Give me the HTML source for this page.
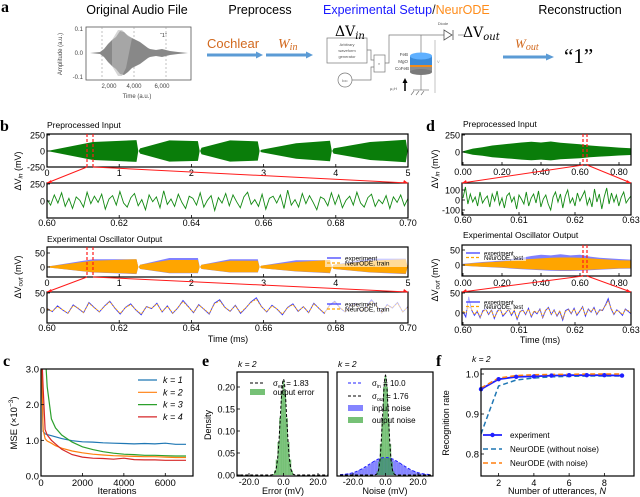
<!DOCTYPE html>
<html><head><meta charset="utf-8"><style>
html,body{margin:0;padding:0;background:#fff;}
svg{display:block;font-family:"Liberation Sans",sans-serif;}
</style></head><body>
<svg id="fig" width="640" height="497" viewBox="0 0 640 497" xmlns="http://www.w3.org/2000/svg">
<defs>
<clipPath id="cb1"><rect x="47" y="134" width="361" height="33"/></clipPath>
<clipPath id="cb2"><rect x="47" y="183" width="361" height="35"/></clipPath>
<clipPath id="cb3"><rect x="47" y="247" width="361" height="30"/></clipPath>
<clipPath id="cb4"><rect x="47" y="292" width="361" height="31"/></clipPath>
<clipPath id="cd1"><rect x="462" y="134" width="169" height="31"/></clipPath>
<clipPath id="cd2"><rect x="462" y="183" width="169" height="32"/></clipPath>
<clipPath id="cd3"><rect x="462" y="245" width="169" height="31"/></clipPath>
<clipPath id="cd4"><rect x="462" y="292" width="169" height="33"/></clipPath>
<clipPath id="cc"><rect x="41" y="369" width="152" height="107"/></clipPath>
<clipPath id="ce1"><rect x="237" y="372" width="91" height="104"/></clipPath>
<clipPath id="ce2"><rect x="337" y="372" width="96" height="104"/></clipPath>
<clipPath id="cf"><rect x="481" y="369" width="153" height="107"/></clipPath>
<clipPath id="caud"><rect x="86" y="27" width="105" height="53"/></clipPath>
</defs>

<g>
<text x="1" y="12" font-family="Liberation Serif,serif" font-weight="bold" font-size="16">a</text>
<text x="137" y="14" font-size="12.5" text-anchor="middle">Original Audio File</text>
<text x="260" y="14" font-size="12.5" text-anchor="middle">Preprocess</text>
<text x="323" y="14" font-size="12.5"><tspan fill="#1a1aff">Experimental Setup</tspan><tspan fill="#222">/</tspan><tspan fill="#ff8c1a">NeurODE</tspan></text>
<text x="580" y="14" font-size="12.5" text-anchor="middle">Reconstruction</text>
<g>
<rect x="86" y="27" width="105" height="53" fill="none" stroke="#555" stroke-width="0.8"/>
<line x1="102" y1="27" x2="102" y2="80" stroke="#999" stroke-dasharray="2,2" stroke-width="0.6"/>
<line x1="134" y1="27" x2="134" y2="80" stroke="#999" stroke-dasharray="2,2" stroke-width="0.6"/>
<line x1="166" y1="27" x2="166" y2="80" stroke="#999" stroke-dasharray="2,2" stroke-width="0.6"/>
<g clip-path="url(#caud)">
<polygon fill="#888" points="90,53 100,52 104,49 108,44 112,40 116,37 120,31 124,32 128,36 132,38 136,40 140,42 144,45 148,48 150,49 156,50 162,49 170,51 178,52 188,53 178,54 170,55 162,57 156,56 150,57 148,58 144,61 140,64 136,66 132,68 128,72 124,75 120,74 116,69 112,66 108,62 104,57 100,54"/>
<polygon fill="#bbb" points="112,40 118,30 122,30 126,34 132,38 126,68 122,76 118,76 112,66" opacity="0.6"/>
</g>
<text x="160" y="37" font-size="5.5" fill="#333">“1”</text>
<g font-size="6" fill="#444" text-anchor="end">
<text x="83" y="31">0.1</text><text x="83" y="55">0.0</text><text x="83" y="79">-0.1</text></g>
<g font-size="6" fill="#444" text-anchor="middle">
<text x="109" y="88">2,000</text><text x="134" y="88">4,000</text><text x="162" y="88">6,000</text></g>
<text x="137" y="98" font-size="6" fill="#444" text-anchor="middle">Time (a.u.)</text>
<text transform="translate(62,54) rotate(-90)" font-size="6" fill="#444" text-anchor="middle">Amplitude (a.u.)</text>
</g>
<text x="207" y="48" font-size="13" fill="#d2691e">Cochlear</text>
<line x1="207" y1="55" x2="257" y2="55" stroke="#5b9bd5" stroke-width="3"/>
<polygon points="256,51.5 263,55 256,58.5" fill="#5b9bd5"/>
<text x="278" y="48" font-size="14" fill="#d2691e" font-style="italic" font-family="Liberation Serif,serif">W<tspan font-size="10" dy="2">in</tspan></text>
<line x1="266" y1="55" x2="307" y2="55" stroke="#5b9bd5" stroke-width="3"/>
<polygon points="306,51.5 313,55 306,58.5" fill="#5b9bd5"/>
<g stroke="#777" fill="none" stroke-width="0.7">
<rect x="327" y="38" width="40" height="25"/>
<circle cx="345" cy="80" r="7"/>
<rect x="374" y="55" width="11" height="17"/>
<polyline points="367,50 371,50 371,60 374,60"/>
<polyline points="352,80 371,80 371,67 374,67"/>
<polyline points="385,63 389,63 389,35 444,35"/>
<polyline points="458,35 465,35"/>
<line x1="421" y1="35" x2="421" y2="53"/>
<line x1="421" y1="72" x2="421" y2="90"/>
<line x1="413" y1="90" x2="429" y2="90"/>
<line x1="435" y1="93" x2="435" y2="40" stroke="#aaa"/>
</g>
<text x="335" y="36" font-size="14" font-family="DejaVu Serif,serif">ΔV<tspan font-style="italic" font-size="10" dy="3">in</tspan></text>
<g font-size="4" fill="#555" text-anchor="middle"><text x="347" y="46">Arbitrary</text><text x="347" y="52">waveform</text><text x="347" y="58">generator</text><text x="345" y="82">I<tspan font-size="3">DC</tspan></text><text x="379" y="65">×</text><text x="443" y="25">Diode</text></g>
<g font-size="4.5" fill="#444" text-anchor="end"><text x="408" y="56">FeB</text><text x="408" y="63">MgO</text><text x="409" y="70">CoFeB</text></g>
<text x="390" y="90" font-size="4" fill="#555">μ₀H</text>
<line x1="405" y1="91" x2="405" y2="82" stroke="#000" stroke-width="1.5"/><polygon points="402.5,83 405,78 407.5,83" fill="#000"/>
<polygon points="444,30 444,40 452,35" fill="#fff" stroke="#555" stroke-width="0.8"/><line x1="453" y1="30" x2="453" y2="40" stroke="#555" stroke-width="0.8"/>
<g>
<rect x="410" y="56" width="22" height="16" fill="#8c8c8c"/>
<ellipse cx="421" cy="72" rx="11" ry="3" fill="#7a7a7a"/>
<rect x="410" y="56" width="22" height="9" fill="#3a8ad8"/>
<rect x="410" y="65" width="22" height="2" fill="#f08c1c"/>
<ellipse cx="421" cy="56" rx="11" ry="3.5" fill="#5fb0ff"/>
</g>
<path d="M414,91 l-3,4 M419,91 l-3,4 M424,91 l-3,4" stroke="#777" stroke-width="0.7"/>
<text x="437" y="63" font-size="4" fill="#999">V</text>
<text x="463" y="37" font-size="14" font-family="DejaVu Serif,serif">ΔV<tspan font-style="italic" font-size="10" dy="3">out</tspan></text>
<text x="515" y="48" font-size="13" fill="#d2691e" font-style="italic" font-family="Liberation Serif,serif">W<tspan font-size="10" dy="2">out</tspan></text>
<line x1="503" y1="57" x2="547" y2="57" stroke="#5b9bd5" stroke-width="3"/>
<polygon points="546,53.5 554,57 546,60.5" fill="#5b9bd5"/>
<text x="564" y="63" font-size="21" font-family="Liberation Serif,serif">“1”</text>
</g>

<g id="charts"></g>
</svg>
<script>
const bSegStart=[0,1.27,2.12,2.95,3.95];
const bSegEnd=[1.27,2.12,2.95,3.95,5];
const bAmpStart=[5,40,50,20,40];
const bAmpMid=[140,165,165,120,140];
const bAmpEnd=[170,155,150,160,175];
const bOutStart=[2,8,8,5,8];
const bOutMid=[22,25,22,18,22];
const bOutEnd=[28,25,22,25,28];
const bOutSpike=[28,32,28,24,30];
const bIn=[20,-60,90,-30,120,-80,40,-110,60,10,-90,130,-40,70,-20,100,-120,30,80,-60,140,-30,-90,50,110,-70,20,-130,90,-10,60,-100,150,-50,30,-80,100,-20,-110,70,40,-60,120,-90,10,80,-140,50,-30,110,-70,90,-10,-100,60,130,-50,20,-80,100,-120,40,70,-30,90,-110,160,-60,20,-90,110,-40,80,-20,-130,60,30,-70,120,-50,90,-100,10,70,-60,130,-30,-90,50,100,-80,20,-40,80,-110,60,-20,90,-70,40];
const bOutExp=[5,-5,12,0,-10,15,4,-8,22,8,-6,12,26,5,-12,8,18,0,-14,10,4,20,-6,12,-10,6,28,10,-8,16,2,-12,20,30,8,-4,14,-10,6,24,36,10,-6,14,2,-14,8,18,-4,10,-8,20,4,-10,14,26,6,-6,12,20,-4,8,30,12,-8,16,6,22,-6,10];
const bOutNode=[4,-4,10,1,-9,13,5,-7,20,7,-5,11,24,6,-10,7,16,1,-12,9,5,18,-5,11,-9,7,25,9,-7,14,3,-10,18,27,7,-3,12,-8,7,22,32,9,-5,12,3,-12,7,16,-3,9,-7,18,5,-9,12,23,7,-5,11,18,-3,7,26,11,-7,14,7,20,-5,9];
const dT=[0,0.05,0.1,0.15,0.2,0.25,0.3,0.35,0.4,0.45,0.5,0.55,0.6,0.65,0.7,0.75,0.8,0.86];
const dAmp=[10,50,70,95,110,125,140,150,140,155,135,125,115,95,85,75,65,55];
const dOAmp=[3,6,8,10,12,15,18,20,22,24,25,25,24,22,20,18,16,15];
const dOSpike=[4,7,10,12,16,20,24,30,34,32,36,32,34,28,24,22,20,18];
const dIn=[20,130,-40,60,-20,30,-60,80,-30,10,40,-70,60,-10,90,-50,20,-80,40,70,-20,30,-90,50,10,-40,80,-60,20,60,-30,90,-70,10,50,-40,-100,30,80,-20,60,-80,40,100,-30,20,-60,70,-10,40,90,-50,20,-70,110,-20,60,-90,30,120,-40,70,-20,50,-60,30,80,-30,10,40];
const dOutExp=[2,-10,40,8,-6,4,-12,6,10,-4,8,-14,4,12,-8,0,10,-6,6,-16,2,8,-4,12,-10,4,-2,10,-12,6,14,-4,8,-8,4,-18,6,10,-2,12,-6,4,16,-8,10,2,14,-4,8,6,20,36,10,-4,8,2,-6,10,4,-2];
const dOutNode=[4,0,16,10,-4,6,-10,4,8,-2,6,-12,2,10,-6,2,8,-4,8,-14,4,6,-2,10,-8,6,0,8,-10,8,12,-2,6,-6,6,-14,4,8,0,10,-4,6,14,-6,8,4,12,-2,6,8,18,30,12,-2,6,4,-4,8,6,0];
const iters=[0,100,200,300,500,700,1000,1500,2000,2500,3000,3500,4000,4500,5000,5500,6000,6500,7000];
const mseK1=[4,1.25,1.18,1.16,1.13,1.1,1.05,0.99,0.96,0.95,0.93,0.92,0.91,0.9,0.91,0.9,0.92,0.89,0.89];
const mseK2=[4,1.3,1.05,0.98,0.92,0.85,0.78,0.7,0.65,0.61,0.59,0.57,0.56,0.55,0.54,0.54,0.53,0.52,0.52];
const mseK3=[4,4,3.5,2.5,1.6,1.35,1.15,0.95,0.82,0.74,0.68,0.64,0.61,0.6,0.58,0.58,0.57,0.56,0.56];
const mseK4=[4,2.5,1.3,1.15,1.0,0.9,0.75,0.6,0.53,0.5,0.49,0.47,0.5,0.46,0.45,0.45,0.44,0.44,0.44];
const errBins=[-6,-5,-4,-3,-2,-1,0,1,2,3,4,5,6];
const errHist=[0.002,0.01,0.035,0.075,0.13,0.19,0.215,0.19,0.13,0.075,0.035,0.01,0.002];
const outHist=[0.001,0.008,0.03,0.07,0.13,0.2,0.225,0.2,0.13,0.07,0.03,0.008,0.001];
const inBins=[-26,-24,-22,-20,-18,-16,-14,-12,-10,-8,-6,-4,-2,0,2,4,6,8,10,12,14,16,18,20,22,24,26];
const inHist=[0.0014,0.0022,0.0036,0.0054,0.0079,0.011,0.015,0.0195,0.024,0.029,0.033,0.037,0.039,0.039,0.039,0.037,0.033,0.029,0.024,0.0195,0.015,0.011,0.0079,0.0054,0.0036,0.0022,0.0014];
const sigmas=[1.83,10.0,1.76];
const uttN=[1,2,3,4,5,6,7,8,9];
const recExp=[0.962,0.987,0.993,0.994,0.996,0.997,0.997,0.997,0.996];
const recNoNoise=[0.85,0.97,0.985,0.99,0.993,0.994,0.995,0.995,0.995];
const recNoise=[0.965,0.99,0.996,0.998,0.999,0.999,1.0,1.0,1.0];

const NS='http://www.w3.org/2000/svg';
const root=document.getElementById('charts');
function mk(tag,attrs,parent,name){
  const e=document.createElementNS(NS,tag);
  for(const k in attrs) e.setAttribute(k,attrs[k]);
  
  
  (parent||root).appendChild(e);
  return e;
}
function txt(x,y,s,size,anchor,name,extra){
  const a=Object.assign({x:x,y:y,'font-size':size,'text-anchor':anchor||'start'},extra||{});
  const t=mk('text',a,null,name);
  t.textContent=s;return t;
}
function lin(d0,d1,r0,r1){return v=>r0+(v-d0)*(r1-r0)/(d1-d0);}
function frame(x0,y0,x1,y1,name){mk('rect',{x:x0,y:y0,width:x1-x0,height:y1-y0,fill:'none',stroke:'#000','stroke-width':1.2},null,name);}
function yticks(x0,sy,vals,labels,size,name){vals.forEach((v,i)=>{mk('line',{x1:x0,y1:sy(v),x2:x0+3,y2:sy(v),stroke:'#000','stroke-width':0.8},null,name+'-tick');txt(x0-2,sy(v)+3.5,labels[i],size,'end',name+'-label');});}
function xticks(y1,sx,vals,labels,size,ly,name){vals.forEach((v,i)=>{mk('line',{x1:sx(v),y1:y1,x2:sx(v),y2:y1-3,stroke:'#000','stroke-width':0.8},null,name+'-tick');txt(sx(v),ly,labels[i],size,'middle',name+'-label');});}
function pathFrom(xs,ys,sx,sy){return xs.map((x,i)=>(i?'L':'M')+sx(x).toFixed(1)+','+sy(ys[i]).toFixed(1)).join('');}
function seriesLine(arr,t0,t1,sx,sy,color,w,clip,name,dash){
  const xs=arr.map((_,i)=>t0+(t1-t0)*i/(arr.length-1));
  const a={d:pathFrom(xs,arr,sx,sy),fill:'none',stroke:color,'stroke-width':w,'clip-path':'url(#'+clip+')'};
  if(dash)a['stroke-dasharray']=dash;
  return mk('path',a,null,name);
}
function envelope(ts,up,lo,sx,sy,color,clip,name,op){
  let d='M'+ts.map((t,i)=>sx(t).toFixed(1)+','+sy(up[i]).toFixed(1)).join('L');
  for(let i=ts.length-1;i>=0;i--) d+='L'+sx(ts[i]).toFixed(1)+','+sy(lo[i]).toFixed(1);
  return mk('path',{d:d+'Z',fill:color,'clip-path':'url(#'+clip+')',opacity:op||1},null,name);
}
function segEnvelope(starts,ends,a0,am,a1){
  const ts=[],amp=[];
  starts.forEach((s,i)=>{const e=ends[i];ts.push(s,s+0.02,(s+e)/2,e-0.03,e-0.005);amp.push(0,a0[i],am[i],a1[i],0);});
  return {ts,amp};
}
const RED='#ff1a1a';
function zoomLines(xa,xb,ytop,ybot,tx0,tx1,ty){
  mk('line',{x1:xa,y1:ytop,x2:xa,y2:ybot,stroke:RED,'stroke-width':1.2,'stroke-dasharray':'3,2'},null,'zoom-marker');
  mk('line',{x1:xb,y1:ytop,x2:xb,y2:ybot,stroke:RED,'stroke-width':1.2,'stroke-dasharray':'3,2'},null,'zoom-marker');
  mk('line',{x1:xa,y1:ybot,x2:tx0,y2:ty,stroke:RED,'stroke-width':1},null,'zoom-connector');
  mk('line',{x1:xb,y1:ybot,x2:tx1,y2:ty,stroke:RED,'stroke-width':1},null,'zoom-connector');
  mk('polygon',{points:`${tx0},${ty} ${tx0+4},${ty-3} ${tx0+5},${ty}`,fill:RED},null,'zoom-arrowhead');
  mk('polygon',{points:`${tx1},${ty} ${tx1-4},${ty-3} ${tx1-5},${ty}`,fill:RED},null,'zoom-arrowhead');
}
function legendBox(x,y,w,h,items,size,name){
  mk('rect',{x:x,y:y,width:w,height:h,fill:'#fff',opacity:0.6},null,name+'-bg');
  items.forEach((it,i)=>{const yy=y+5+i*(h-4)/items.length;
    const a={x1:x+2,y1:yy,x2:x+16,y2:yy,stroke:it[1],'stroke-width':1.2};if(it[2])a['stroke-dasharray']=it[2];
    mk('line',a,null,name+'-swatch');txt(x+20,yy+2.5,it[0],size,'start',name+'-entry');});
}

// panel b
txt(0,131,'b',16,'start','panel-label-b',{'font-weight':'bold','font-family':'Liberation Serif,serif'});
txt(47,128,'Preprocessed Input',8.5,'start','b-input-title');
const bx=lin(0,5,47,408), b1y=lin(0,250,151,135);
const eb=segEnvelope(bSegStart,bSegEnd,bAmpStart,bAmpMid,bAmpEnd);
envelope(eb.ts,eb.amp,eb.amp.map(v=>-v),bx,b1y,'#0a7d0a','cb1','b-input-waveform');
frame(47,134,408,167,'b-input-plot');
yticks(47,b1y,[250,0,-250],['250','0','-250'],9,'b1-ytick');
xticks(167,bx,[0,1,2,3,4,5],['0','1','2','3','4','5'],9,176,'b1-xtick');
const b2x=lin(0.6,0.7,47,408), b2y=lin(0,250,201,184);
seriesLine(bIn,0.6,0.7,b2x,b2y,'#138a13',0.9,'cb2','b-input-zoom-line');
frame(47,183,408,218,'b-input-zoom-plot');
yticks(47,b2y,[250,0],['250','0'],9,'b2-ytick');
xticks(218,b2x,[0.6,0.62,0.64,0.66,0.68,0.7],['0.60','0.62','0.64','0.66','0.68','0.70'],9,226,'b2-xtick');
zoomLines(87,93,134,167,47,408,183);
mk('text',{x:0,y:0,'font-size':9,'text-anchor':'middle',transform:'translate(21,171) rotate(-90)'},null,'b-y-title-in').innerHTML='ΔV<tspan font-style="italic" font-size="6.5" dy="1.5">in</tspan><tspan dy="-1.5"> (mV)</tspan>';

txt(47,242,'Experimental Oscillator Output',8.5,'start','b-output-title');
const b3y=lin(0,50,267,253);
const eo=segEnvelope(bSegStart,bSegEnd,bOutStart,bOutMid,bOutEnd);
const es=segEnvelope(bSegStart,bSegEnd,bOutStart,bOutSpike,bOutSpike);
envelope(es.ts,es.amp,eo.amp.map(v=>-v*0.9),bx,b3y,'#6a6aff','cb3','b-output-experiment',0.85);
envelope(eo.ts,eo.amp,eo.amp.map(v=>-v*0.85),bx,b3y,'#ffa500','cb3','b-output-neurode');
legendBox(325,253,82,14,[['experiment','#3333ff'],['NeurODE, train','#ffa500','3,2']],6.5,'b3-legend');
frame(47,247,408,277,'b-output-plot');
yticks(47,b3y,[50,0],['50','0'],9,'b3-ytick');
xticks(277,bx,[0,1,2,3,4,5],['0','1','2','3','4','5'],9,286,'b3-xtick');
const b4y=lin(0,50,310,293);
seriesLine(bOutExp,0.6,0.7,b2x,b4y,'#3333ff',0.9,'cb4','b-output-zoom-experiment');
seriesLine(bOutNode,0.6,0.7,b2x,b4y,'#ffa500',0.9,'cb4','b-output-zoom-neurode','2,1.5');
legendBox(325,299,82,14,[['experiment','#3333ff'],['NeurODE, train','#ffa500','3,2']],6.5,'b4-legend');
frame(47,292,408,323,'b-output-zoom-plot');
yticks(47,b4y,[50,0],['50','0'],9,'b4-ytick');
xticks(323,b2x,[0.6,0.62,0.64,0.66,0.68,0.7],['0.60','0.62','0.64','0.66','0.68','0.70'],9,331,'b4-xtick');
zoomLines(87,93,247,277,47,408,292);
mk('text',{x:0,y:0,'font-size':9,'text-anchor':'middle',transform:'translate(21,277) rotate(-90)'},null,'b-y-title-out').innerHTML='ΔV<tspan font-style="italic" font-size="6.5" dy="1.5">out</tspan><tspan dy="-1.5"> (mV)</tspan>';
txt(228,342,'Time (ms)',9,'middle','b-x-title');

// panel d
txt(426,131,'d',16,'start','panel-label-d',{'font-weight':'bold','font-family':'Liberation Serif,serif'});
txt(463,127,'Preprocessed Input',8.5,'start','d-input-title');
const dx=lin(0,0.2,463,502), d1y=lin(0,250,152,135);
envelope(dT,dAmp,dAmp.map(v=>-v*0.8),dx,d1y,'#0a7d0a','cd1','d-input-waveform');
frame(462,134,631,165,'d-input-plot');
yticks(462,d1y,[250,0],['250','0'],9,'d1-ytick');
xticks(165,dx,[0,0.2,0.4,0.6,0.8],['0.00','0.20','0.40','0.60','0.80'],9,175,'d1-xtick');
const d2x=lin(0.6,0.63,463,631), d2y=lin(0,100,200,190);
seriesLine(dIn,0.6,0.63,d2x,d2y,'#138a13',0.9,'cd2','d-input-zoom-line');
frame(462,183,631,215,'d-input-zoom-plot');
yticks(462,d2y,[100,0,-100],['100','0','-100'],9,'d2-ytick');
xticks(215,d2x,[0.6,0.61,0.62,0.63],['0.60','0.61','0.62','0.63'],9,223,'d2-xtick');
zoomLines(583,587,134,165,462,631,183);
mk('text',{x:0,y:0,'font-size':9,'text-anchor':'middle',transform:'translate(438,169) rotate(-90)'},null,'d-y-title-in').innerHTML='ΔV<tspan font-style="italic" font-size="6.5" dy="1.5">in</tspan><tspan dy="-1.5"> (mV)</tspan>';
txt(463,238,'Experimental Oscillator Output',8.5,'start','d-output-title');
const d3y=lin(0,50,265,250);
envelope(dT,dOSpike,dOAmp.map(v=>-v*0.8),dx,d3y,'#6a6aff','cd3','d-output-experiment',0.85);
envelope(dT,dOAmp,dOAmp.map(v=>-v*0.7),dx,d3y,'#ffa500','cd3','d-output-neurode');
legendBox(464,248,62,13,[['experiment','#3333ff'],['NeurODE, test','#ffa500','3,2']],6,'d3-legend');
frame(462,245,631,276,'d-output-plot');
yticks(462,d3y,[50,0],['50','0'],9,'d3-ytick');
xticks(276,dx,[0,0.2,0.4,0.6,0.8],['0.00','0.20','0.40','0.60','0.80'],9,286,'d3-xtick');
const d4y=lin(0,50,313,293);
seriesLine(dOutExp,0.6,0.63,d2x,d4y,'#3333ff',0.9,'cd4','d-output-zoom-experiment');
seriesLine(dOutNode,0.6,0.63,d2x,d4y,'#ffa500',0.9,'cd4','d-output-zoom-neurode','2,1.5');
legendBox(464,297,62,13,[['experiment','#3333ff'],['NeurODE, test','#ffa500','3,2']],6,'d4-legend');
frame(462,292,631,325,'d-output-zoom-plot');
yticks(462,d4y,[50,0],['50','0'],9,'d4-ytick');
xticks(325,d2x,[0.6,0.61,0.62,0.63],['0.60','0.61','0.62','0.63'],9,333,'d4-xtick');
zoomLines(583,587,245,276,462,631,292);
mk('text',{x:0,y:0,'font-size':9,'text-anchor':'middle',transform:'translate(438,280) rotate(-90)'},null,'d-y-title-out').innerHTML='ΔV<tspan font-style="italic" font-size="6.5" dy="1.5">out</tspan><tspan dy="-1.5"> (mV)</tspan>';
txt(540,343,'Time (ms)',9,'middle','d-x-title');

// panel c
txt(3,366,'c',16,'start','panel-label-c',{'font-weight':'bold','font-family':'Liberation Serif,serif'});
const cx=lin(0,7000,41,186), cy=lin(0,3,476,369);
const cCols=['#1f77b4','#ff7f0e','#2ca02c','#d62728'];
[mseK1,mseK2,mseK3,mseK4].forEach((s,i)=>{
  mk('path',{d:pathFrom(iters,s,cx,cy),fill:'none',stroke:cCols[i],'stroke-width':1.2,'clip-path':'url(#cc)'},null,'mse-curve-k'+(i+1));
});
frame(41,369,193,476,'c-plot');
yticks(41,cy,[0,1,2,3],['0.0','1.0','2.0','3.0'],9.5,'c-ytick');
xticks(476,cx,[0,2000,4000,6000],['0','2000','4000','6000'],9.5,486,'c-xtick');
txt(117,494,'Iterations',9.5,'middle','c-x-title');
mk('text',{x:0,y:0,'font-size':9.5,'text-anchor':'middle',transform:'translate(17,423) rotate(-90)'},null,'c-y-title').innerHTML='MSE (×10<tspan font-size="6.5" dy="-4">−3</tspan><tspan dy="4">)</tspan>';
['k = 1','k = 2','k = 3','k = 4'].forEach((s,i)=>{
  const yy=380+i*12.3;
  mk('line',{x1:138,y1:yy,x2:157,y2:yy,stroke:cCols[i],'stroke-width':1.2},null,'c-legend-swatch');
  txt(163,yy+3,s,9,'start','c-legend-entry',{'font-style':'italic'});
});

// panel e
txt(202,366,'e',16,'start','panel-label-e',{'font-weight':'bold','font-family':'Liberation Serif,serif'});
const ex1=lin(-20,20,249,318), ex2=lin(-20,20,353,418), ey=lin(0,0.2,475,387);
function hist(bins,vals,sx,w,color,op,clip,name){
  bins.forEach((b,i)=>{mk('rect',{x:sx(b-w/2),y:ey(vals[i]),width:sx(b+w/2)-sx(b-w/2),height:ey(0)-ey(vals[i]),fill:color,opacity:op,'clip-path':'url(#'+clip+')'},null,name);});
}
function gauss(sig,sx,clip,color,name){
  const xs=[];for(let v=-28;v<=28;v+=0.25)xs.push(v);
  const ys=xs.map(v=>Math.exp(-v*v/(2*sig*sig))/(sig*Math.sqrt(2*Math.PI)));
  mk('path',{d:pathFrom(xs,ys,sx,ey),fill:'none',stroke:color,'stroke-width':1,'stroke-dasharray':'3,2','clip-path':'url(#'+clip+')'},null,name);
}
hist(errBins,errHist,ex1,1,'#2ca02c',0.65,'ce1','error-hist-bar');
gauss(sigmas[0],ex1,'ce1','#000','error-fit');
hist(inBins,inHist,ex2,2,'#3333ff',0.6,'ce2','input-noise-bar');
hist(errBins,outHist,ex2,1,'#2ca02c',0.65,'ce2','output-noise-bar');
gauss(sigmas[1],ex2,'ce2','#2222ff','input-noise-fit');
gauss(sigmas[2],ex2,'ce2','#000','output-noise-fit');
frame(237,372,328,476,'e-error-plot');
frame(337,372,433,476,'e-noise-plot');
yticks(237,ey,[0,0.05,0.1,0.15,0.2],['0.00','0.05','0.10','0.15','0.20'],9,'e-ytick');
xticks(476,ex1,[-20,0,20],['-20.0','0.0','20.0'],9,485,'e1-xtick');
xticks(476,ex2,[-20,0,20],['-20.0','0.0','20.0'],9,485,'e2-xtick');
txt(238,367,'k = 2',8.5,'start','e1-k-label',{'font-style':'italic'});
txt(338,367,'k = 2',8.5,'start','e2-k-label',{'font-style':'italic'});
txt(283,494,'Error (mV)',9,'middle','e1-x-title');
txt(385,494,'Noise (mV)',9,'middle','e2-x-title');
mk('text',{x:0,y:0,'font-size':9,'text-anchor':'middle',transform:'translate(211,425) rotate(-90)'},null,'e-y-title').textContent='Density';
mk('line',{x1:250,y1:383,x2:263,y2:383,stroke:'#000','stroke-dasharray':'3,2','stroke-width':1},null,'e1-legend-swatch');
mk('text',{x:273,y:386,'font-size':8},null,'e1-legend-entry').innerHTML='σ<tspan font-size="5" dy="2">err</tspan><tspan dy="-2"> = 1.83</tspan>';
mk('rect',{x:250,y:389,width:15,height:6,fill:'#2ca02c',opacity:0.65},null,'e1-legend-swatch');
txt(273,395,'output error',8,'start','e1-legend-entry');
mk('line',{x1:348,y1:383,x2:361,y2:383,stroke:'#2222ff','stroke-dasharray':'3,2','stroke-width':1},null,'e2-legend-swatch');
mk('text',{x:372,y:386,'font-size':8},null,'e2-legend-entry').innerHTML='σ<tspan font-size="5" dy="2">in</tspan><tspan dy="-2"> = 10.0</tspan>';
mk('line',{x1:348,y1:396,x2:361,y2:396,stroke:'#000','stroke-dasharray':'3,2','stroke-width':1},null,'e2-legend-swatch');
mk('text',{x:372,y:399,'font-size':8},null,'e2-legend-entry').innerHTML='σ<tspan font-size="5" dy="2">out</tspan><tspan dy="-2"> = 1.76</tspan>';
mk('rect',{x:348,y:405,width:15,height:6,fill:'#3333ff',opacity:0.6},null,'e2-legend-swatch');
txt(372,411,'input noise',8,'start','e2-legend-entry');
mk('rect',{x:348,y:417,width:15,height:6,fill:'#2ca02c',opacity:0.65},null,'e2-legend-swatch');
txt(372,423,'output noise',8,'start','e2-legend-entry');

// panel f
txt(436,366,'f',16,'start','panel-label-f',{'font-weight':'bold','font-family':'Liberation Serif,serif'});
txt(472,362,'k = 2',8.5,'start','f-k-label',{'font-style':'italic'});
const fx=lin(1,9,481,622), fy=lin(0.8,1.0,454,374);
mk('path',{d:pathFrom(uttN,recNoNoise,fx,fy),fill:'none',stroke:'#1f77b4','stroke-width':1.5,'stroke-dasharray':'5,3','clip-path':'url(#cf)'},null,'f-neurode-no-noise');
mk('path',{d:pathFrom(uttN,recExp,fx,fy),fill:'none',stroke:'#1f1fff','stroke-width':1.8,'clip-path':'url(#cf)'},null,'f-experiment-line');
mk('path',{d:pathFrom(uttN,recNoise,fx,fy),fill:'none',stroke:'#ff7f0e','stroke-width':1.5,'stroke-dasharray':'5,3','clip-path':'url(#cf)'},null,'f-neurode-noise');
uttN.forEach((n,i)=>{mk('circle',{cx:fx(n),cy:fy(recExp[i]),r:2.2,fill:'#1f1fff'},null,'f-experiment-point');});
frame(481,369,634,476,'f-plot');
yticks(481,fy,[0.8,0.9,1.0],['0.8','0.9','1.0'],9.5,'f-ytick');
xticks(476,fx,[2,4,6,8],['2','4','6','8'],9,486,'f-xtick');
txt(557,494,'',9,'middle','f-x-title').innerHTML='Number of utterances, <tspan font-style="italic">N</tspan>';
mk('text',{x:0,y:0,'font-size':9,'text-anchor':'middle',transform:'translate(449,423) rotate(-90)'},null,'f-y-title').textContent='Recognition rate';
mk('line',{x1:483,y1:435,x2:502,y2:435,stroke:'#1f1fff','stroke-width':1.8},null,'f-legend-swatch');
mk('circle',{cx:492.5,cy:435,r:2.2,fill:'#1f1fff'},null,'f-legend-marker');
txt(510,438,'experiment',8,'start','f-legend-entry');
mk('line',{x1:483,y1:449,x2:502,y2:449,stroke:'#1f77b4','stroke-width':1.5,'stroke-dasharray':'5,3'},null,'f-legend-swatch');
txt(510,452,'NeurODE (without noise)',8,'start','f-legend-entry');
mk('line',{x1:483,y1:463,x2:502,y2:463,stroke:'#ff7f0e','stroke-width':1.5,'stroke-dasharray':'5,3'},null,'f-legend-swatch');
txt(510,466,'NeurODE (with noise)',8,'start','f-legend-entry');
</script>
</body></html>
